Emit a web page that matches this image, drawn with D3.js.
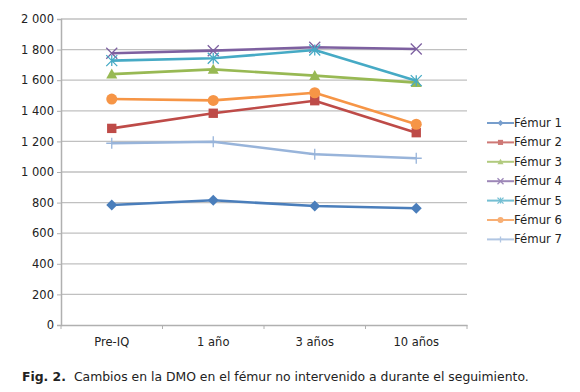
<!DOCTYPE html>
<html><head><meta charset="utf-8">
<script src="https://cdn.jsdelivr.net/npm/d3@7"></script>
<style>body{margin:0;background:#fff}</style>
</head><body><svg id="c" width="580" height="392"></svg>
<script>
const categories = ["Pre-IQ", "1 año", "3 años", "10 años"];
const seriesNames = ["Fémur 1","Fémur 2","Fémur 3","Fémur 4","Fémur 5","Fémur 6","Fémur 7"];
const femur1 = [784, 815, 778, 763];
const femur2 = [1285, 1384, 1466, 1257];
const femur3 = [1640, 1671, 1630, 1584];
const femur4 = [1776, 1793, 1815, 1804];
const femur5 = [1728, 1743, 1797, 1597];
const femur6 = [1477, 1468, 1518, 1312];
const femur7 = [1188, 1198, 1116, 1090];
const yTicks = [0,200,400,600,800,1000,1200,1400,1600,1800,2000];
const colors = ["#4A7EBB","#BE4B48","#98B954","#7D60A0","#46AAC5","#F69546","#98B4DA"];
const markers = ["diamond","square","triangle","x","star","circle","plus"];
const allSeries = [femur1,femur2,femur3,femur4,femur5,femur6,femur7];

const svg = d3.select("#c");
const font = "'DejaVu Sans', Verdana, sans-serif";
const x = d3.scaleBand().domain(categories).range([61, 467]);
const y = d3.scaleLinear().domain([0, 2000]).range([325, 19]);
const fmt = v => d3.format(",")(v).replace(",", " ");

svg.append("g").selectAll("line").data(yTicks.filter(d=>d>0)).join("line")
  .attr("x1", 61).attr("x2", 467).attr("y1", d=>y(d)).attr("y2", d=>y(d))
  .attr("stroke", "#c0c0c0").attr("stroke-width", 1.3);

const ya = svg.append("g").attr("transform","translate(61,0)")
  .call(d3.axisLeft(y).tickValues(yTicks).tickFormat(fmt).tickSize(4).tickPadding(3));
ya.select(".domain").attr("stroke","#b0b0b0").attr("stroke-width",1.5);
ya.selectAll(".tick line").attr("stroke","#b0b0b0");
ya.selectAll("text").attr("font-family",font).attr("font-size",11.5).attr("fill","#222");

const xa = svg.append("g").attr("transform","translate(0,325)")
  .call(d3.axisBottom(x).tickSize(0).tickPadding(13));
xa.select(".domain").attr("stroke","#b0b0b0").attr("stroke-width",1.5);
xa.selectAll("text").attr("font-family",font).attr("font-size",11.5).attr("fill","#222");
const bounds = categories.map(c=>x(c)).concat([467]);
xa.selectAll(".bt").data(bounds).join("line").attr("class","bt")
  .attr("x1",d=>d).attr("x2",d=>d).attr("y1",0).attr("y2",4).attr("stroke","#b0b0b0");

function drawMarker(g, type, color, cx, cy, s) {
  const k = s;
  if (type==="diamond") g.append("path").attr("d",`M${cx},${cy-k}L${cx+k},${cy}L${cx},${cy+k}L${cx-k},${cy}Z`).attr("fill",color);
  else if (type==="square") g.append("rect").attr("x",cx-k*0.85).attr("y",cy-k*0.85).attr("width",k*1.7).attr("height",k*1.7).attr("fill",color);
  else if (type==="triangle") g.append("path").attr("d",`M${cx},${cy-k}L${cx+k},${cy+k*0.8}L${cx-k},${cy+k*0.8}Z`).attr("fill",color);
  else if (type==="circle") g.append("circle").attr("cx",cx).attr("cy",cy).attr("r",k).attr("fill",color);
  else if (type==="x") g.append("path").attr("d",`M${cx-k},${cy-k}L${cx+k},${cy+k}M${cx-k},${cy+k}L${cx+k},${cy-k}`).attr("stroke",color).attr("stroke-width",1.3).attr("fill","none");
  else if (type==="star") g.append("path").attr("d",`M${cx-k},${cy-k}L${cx+k},${cy+k}M${cx-k},${cy+k}L${cx+k},${cy-k}M${cx},${cy-k}L${cx},${cy+k}`).attr("stroke",color).attr("stroke-width",1.3).attr("fill","none");
  else if (type==="plus") g.append("path").attr("d",`M${cx},${cy-k}L${cx},${cy+k}M${cx-k},${cy}L${cx+k},${cy}`).attr("stroke",color).attr("stroke-width",1.3).attr("fill","none");
}

const line = d3.line().x((d,i)=>x(categories[i])+x.bandwidth()/2).y(d=>y(d));
allSeries.forEach((vals, si) => {
  const g = svg.append("g");
  g.append("path").datum(vals).attr("d", line).attr("fill","none")
    .attr("stroke", colors[si]).attr("stroke-width", 2.6).attr("stroke-linejoin","round");
  vals.forEach((v,i) => drawMarker(g, markers[si], colors[si], x(categories[i])+x.bandwidth()/2, y(v), 5.5));
});

const lg = svg.append("g");
seriesNames.forEach((n, i) => {
  const ly = 123 + i*19.4;
  const g = lg.append("g").attr("opacity", 0.75);
  g.append("line").attr("x1",487).attr("x2",514).attr("y1",ly).attr("y2",ly).attr("stroke",colors[i]).attr("stroke-width",2);
  drawMarker(g, markers[i], colors[i], 500.5, ly, 3);
  lg.append("text").attr("x",514).attr("y",ly+4).text(n).attr("font-family",font).attr("font-size",11.7).attr("fill","#222");
});

const cap = svg.append("text").attr("x",22).attr("y",381).attr("font-family",font).attr("font-size",12.4).attr("fill","#222");
cap.append("tspan").attr("font-weight","bold").text("Fig. 2.");
cap.append("tspan").attr("dx",8).text("Cambios en la DMO en el fémur no intervenido a durante el seguimiento.");
</script></body></html>
